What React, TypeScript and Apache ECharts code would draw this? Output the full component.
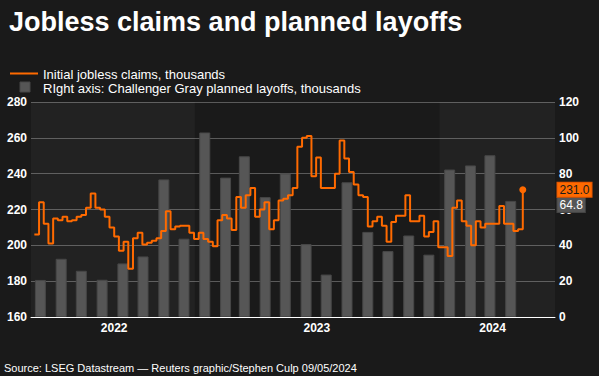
import React, { useEffect, useRef } from 'react';
import * as echarts from 'echarts';

const TITLE = 'Jobless claims and planned layoffs';
const SOURCE = 'Source: LSEG Datastream — Reuters graphic/Stephen Culp 09/05/2024';
const claimsName = 'Initial jobless claims, thousands';
const layoffsName = 'RIght axis: Challenger Gray planned layoffs, thousands';

// weekly initial claims (thousands), weeks ending Saturday, first week ending 2022-05-07
const claimsStartWeek = '2022-05-07';
const claimsValues = [
  206, 224, 212, 201, 215, 214, 216, 213.5, 214, 216,
  217, 221, 229, 221, 220, 216, 210, 205, 197, 202,
  187, 204, 207, 200.5, 201.5, 202.5, 204, 208, 219, 209,
  210.5, 211, 211, 207, 203.5, 207, 203.5, 202, 199.5, 214,
  217, 215, 208.5, 227, 221, 228, 232, 216, 220, 224,
  209, 214, 225, 226, 228, 232, 255, 260, 261, 238.5,
  249, 232, 232, 232, 240, 258.5, 248.5, 241, 234, 228,
  227, 210.5, 213.5, 216, 211, 202, 213, 216.5, 216.5, 228,
  213.5, 213.5, 216.5, 205, 207.5, 213.5, 199, 199, 194, 221,
  225, 213.5, 211, 200, 213.5, 210, 212, 212, 212, 222,
  212, 212, 208, 209, 231,
];

// Challenger Gray monthly planned layoffs (thousands)
const layoffMonths = [
  '2022-05', '2022-06', '2022-07', '2022-08', '2022-09', '2022-10', '2022-11', '2022-12',
  '2023-01', '2023-02', '2023-03', '2023-04', '2023-05', '2023-06', '2023-07', '2023-08',
  '2023-09', '2023-10', '2023-11', '2023-12', '2024-01', '2024-02', '2024-03', '2024-04',
];
const layoffValues = [
  20.7, 32.5, 25.8, 20.8, 29.9, 33.8, 76.8, 43.7,
  103.0, 77.8, 89.7, 66.9, 80.1, 40.7, 23.7, 75.2,
  47.5, 36.8, 45.5, 34.8, 82.3, 84.6, 90.3, 64.8,
];

const yearLabels = ['2022', '2023', '2024'];
const yearLabelDates = ['2022-09-03', '2023-07-02', '2024-03-20'];
const shadedSpans = [
  ['2022-05-02', '2023-01-01'],
  ['2024-01-01', '2024-06-21'],
];
const xMin = '2022-05-02';
const xMax = '2024-06-21';
const leftMin = 160;
const leftMax = 280;
const rightMin = 0;
const rightMax = 120;
const tickStep = 20;

const ORANGE = '#ff6a00';
const BAR = '#565656';
const FONT = "'Liberation Sans', Arial, Helvetica, sans-serif";

function ts(d: string): number {
  const [y, m, dd] = d.split('-').map(Number);
  return new Date(y, m - 1, dd || 1).getTime();
}

export default function App() {
  const ref = useRef<HTMLDivElement>(null);
  useEffect(() => {
    if (!ref.current) return;
    const chart = echarts.init(ref.current, null, { renderer: 'svg' });
    const [sy, sm, sd] = claimsStartWeek.split('-').map(Number);
    const claimsData = claimsValues.map((v, i) => [new Date(sy, sm - 1, sd + 7 * i).getTime(), v]);
    const barData = layoffMonths.map((m, i) => [ts(m + '-16'), layoffValues[i]]);
    const last = claimsValues.length - 1;
    const lastBar = layoffValues.length - 1;

    chart.setOption({
      animation: false,
      backgroundColor: '#1a1a1a',
      textStyle: { fontFamily: FONT },
      grid: { left: 31, right: 44, top: 102, bottom: 59, containLabel: false },
      xAxis: {
        type: 'value',
        min: ts(xMin),
        max: ts(xMax),
        scale: true,
        axisLine: { show: true, onZero: false, lineStyle: { color: '#ffffff', width: 1 } },
        axisTick: { show: false },
        splitLine: { show: false },
        axisLabel: {
          customValues: yearLabelDates.map(ts),
          formatter: (v: number) => {
            const y = String(new Date(v).getFullYear());
            return yearLabels.includes(y) ? y : '';
          },
          color: '#ffffff',
          fontWeight: 'bold',
          fontSize: 12,
          fontFamily: FONT,
          margin: 5,
          showMinLabel: true,
          showMaxLabel: true,
          hideOverlap: false,
        },
      },
      yAxis: [
        {
          type: 'value',
          min: leftMin,
          max: leftMax,
          interval: tickStep,
          position: 'left',
          axisLine: { show: false },
          axisTick: { show: false },
          axisLabel: { color: '#ffffff', fontWeight: 'bold', fontSize: 12, fontFamily: FONT, margin: 4 },
          splitLine: { show: true, lineStyle: { color: '#5a5a5a', width: 1 } },
        },
        {
          type: 'value',
          min: rightMin,
          max: rightMax,
          interval: tickStep,
          position: 'right',
          axisLine: { show: false },
          axisTick: { show: false },
          axisLabel: { color: '#ffffff', fontWeight: 'bold', fontSize: 12, fontFamily: FONT, margin: 4 },
          splitLine: { show: false },
        },
      ],
      series: [
        {
          type: 'line',
          name: 'bands',
          data: [],
          z: 1,
          silent: true,
          markArea: {
            silent: true,
            itemStyle: { color: 'rgba(255,255,255,0.04)' },
            data: shadedSpans.map(([a, b]) => [{ xAxis: ts(a) }, { xAxis: ts(b) }]),
          },
        },
        {
          type: 'bar',
          name: layoffsName,
          yAxisIndex: 1,
          data: barData,
          barWidth: 11,
          z: 2,
          itemStyle: { color: BAR, borderColor: '#474747', borderWidth: 1 },
          markPoint: {
            silent: true,
            symbol: 'rect',
            symbolSize: 1,
            symbolOffset: [0, 4],
            itemStyle: { color: 'rgba(0,0,0,0)' },
            label: {
              show: true,
              position: 'right',
              distance: 2,
              formatter: layoffValues[lastBar].toFixed(1),
              color: '#ffffff',
              fontSize: 12,
              fontFamily: FONT,
              backgroundColor: BAR,
              borderColor: '#444444',
              borderWidth: 1,
              padding: [1, 2, 1, 2],
              lineHeight: 12,
            },
            data: [{ coord: [ts(xMax), layoffValues[lastBar]] }],
          },
        },
        {
          type: 'line',
          name: claimsName,
          yAxisIndex: 0,
          data: claimsData,
          step: 'end',
          z: 3,
          color: ORANGE,
          lineStyle: { color: ORANGE, width: 2 },
          showSymbol: true,
          showAllSymbol: true,
          symbol: 'circle',
          symbolSize: (_v: any, p: any) => (p.dataIndex === last ? 7 : 0),
          itemStyle: { color: ORANGE },
          markPoint: {
            silent: true,
            symbol: 'rect',
            symbolSize: 1,
            itemStyle: { color: 'rgba(0,0,0,0)' },
            label: {
              show: true,
              position: 'right',
              distance: 2,
              formatter: claimsValues[last].toFixed(1),
              color: '#1a1a1a',
              fontSize: 12,
              fontFamily: FONT,
              backgroundColor: ORANGE,
              borderColor: '#e05500',
              borderWidth: 1,
              padding: [1, 2, 1, 2],
              lineHeight: 12,
            },
            data: [{ coord: [ts(xMax), claimsValues[last]] }],
          },
        },
      ],
      graphic: [
        {
          type: 'text',
          x: 9,
          y: 22,
          style: { text: TITLE, fill: '#ffffff', font: `bold 27px ${FONT}`, verticalAlign: 'middle', align: 'left' },
        },
        {
          type: 'line',
          shape: { x1: 10, y1: 73.5, x2: 38, y2: 73.5 },
          style: { stroke: ORANGE, lineWidth: 2 },
        },
        {
          type: 'text',
          x: 43,
          y: 74,
          style: { text: claimsName, fill: '#ffffff', font: `13px ${FONT}`, verticalAlign: 'middle', align: 'left' },
        },
        {
          type: 'rect',
          shape: { x: 20, y: 82, width: 10, height: 10 },
          style: { fill: BAR, stroke: '#474747', lineWidth: 1 },
        },
        {
          type: 'text',
          x: 43,
          y: 88,
          style: { text: layoffsName, fill: '#ffffff', font: `13px ${FONT}`, verticalAlign: 'middle', align: 'left' },
        },
        {
          type: 'text',
          x: 4,
          y: 368,
          style: { text: SOURCE, fill: '#ffffff', font: `11px ${FONT}`, verticalAlign: 'middle', align: 'left' },
        },
      ],
    });
    return () => chart.dispose();
  }, []);
  return <div ref={ref} style={{ position: 'fixed', left: 0, top: 0, width: 599, height: 376 }} />;
}
